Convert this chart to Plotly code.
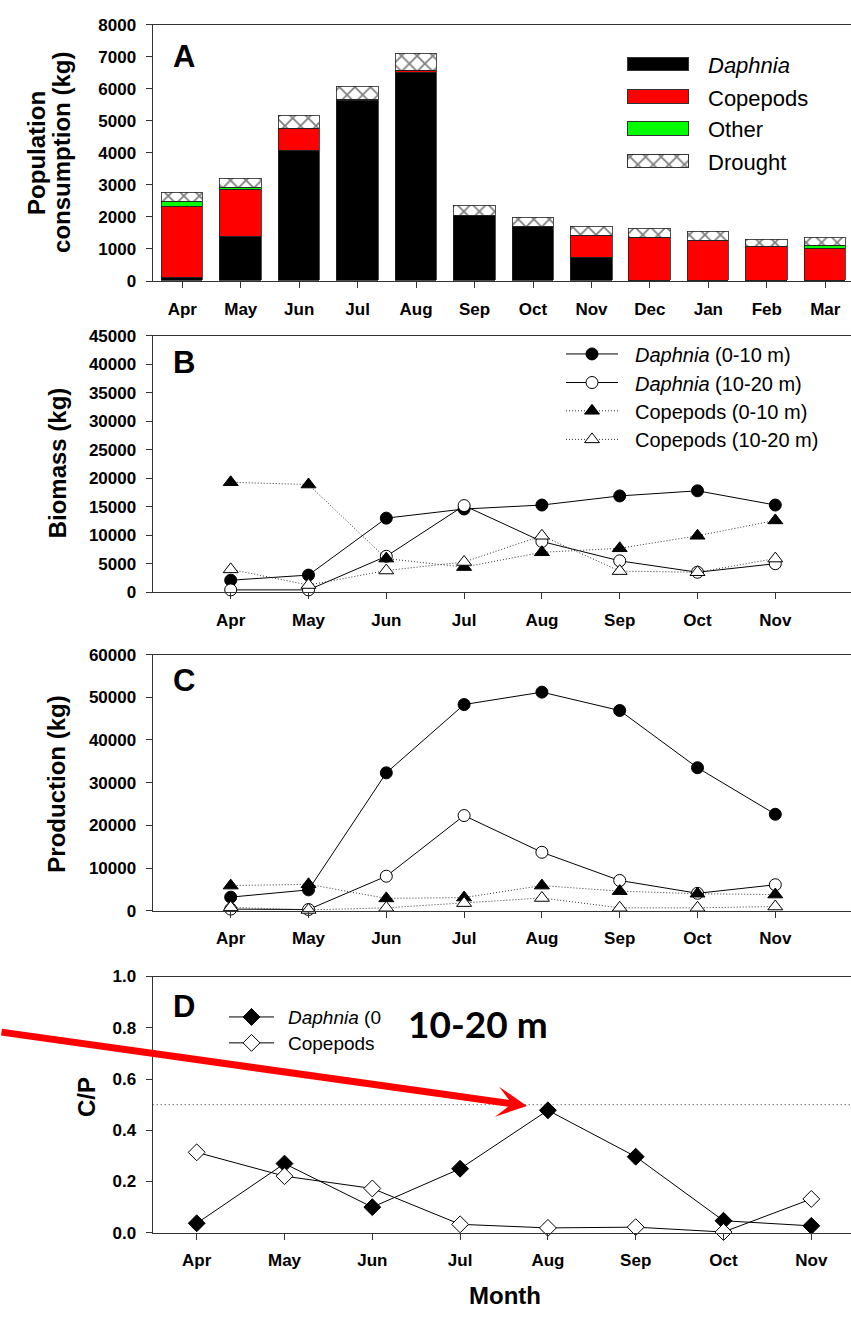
import plotly.graph_objects as go

W, H = 851, 1317

# ---------------------------------------------------------------- data
months_year = ["Apr", "May", "Jun", "Jul", "Aug", "Sep", "Oct", "Nov", "Dec", "Jan", "Feb", "Mar"]
months_season = months_year[:8]

# A: population consumption (kg), stacked by prey type
cons_daphnia = [110, 1385, 4060, 5620, 6490, 2050, 1680, 740, 0, 0, 0, 0]
cons_copepods = [2215, 1475, 690, 35, 60, 0, 0, 675, 1355, 1260, 1055, 995]
cons_other = [155, 50, 0, 0, 0, 0, 0, 0, 0, 0, 0, 100]
cons_drought = [280, 280, 420, 420, 560, 300, 290, 290, 290, 270, 230, 240]

# B: biomass (kg)
bio_daph_0_10 = [2100, 3000, 13000, 14600, 15300, 16900, 17800, 15300]
bio_daph_10_20 = [400, 400, 6300, 15200, 8900, 5500, 3500, 5000]
bio_cope_0_10 = [19300, 18900, 5900, 4400, 7000, 7700, 9900, 12600]
bio_cope_10_20 = [4000, 1250, 3800, 5300, 9900, 3700, 3500, 5900]

# C: production (kg)
prod_daph_0_10 = [3200, 4900, 32300, 48300, 51200, 46900, 33500, 22600]
prod_daph_10_20 = [400, 300, 8100, 22300, 13700, 7100, 4100, 6100]
prod_cope_0_10 = [5900, 6200, 2900, 3100, 5900, 4600, 4000, 3800]
prod_cope_10_20 = [800, 200, 700, 1800, 3000, 700, 700, 1000]

# D: consumption / production ratio, 10-20 m
cp_daphnia = [0.037, 0.27, 0.10, 0.25, 0.478, 0.297, 0.047, 0.027]
cp_copepods = [0.314, 0.221, 0.173, 0.033, 0.019, 0.022, 0.003, 0.132]
CP_REFERENCE = 0.5

# ---------------------------------------------------------------- styling
SANS = "Arial, Liberation Sans, sans-serif"
BLACK = "black"
RED = "#ff0000"
GREEN = "#00ff00"
AXIS_COLOR = "#333333"
DOT_COLOR = "#333333"
DOT_DASH = "1px,2px"

PLOT_LEFT = 152.7
X_DOM = [PLOT_LEFT / W, 1.0]


def ydom(top_px, bottom_px):
    return [1 - bottom_px / H, 1 - top_px / H]


def px(x, y):
    return x / W, 1 - y / H


def x_range(first_tick_px, step_px):
    return [(PLOT_LEFT - first_tick_px) / step_px, (W - first_tick_px) / step_px]


idx_year = list(range(len(months_year)))
idx_season = list(range(len(months_season)))

fig = go.Figure()

# ---------------------------------------------------------------- panel A bars
bar_series = [
    ("Daphnia", cons_daphnia, dict(color=BLACK)),
    ("Copepods", cons_copepods, dict(color=RED)),
    ("Other", cons_other, dict(color=GREEN)),
    ("Drought", cons_drought, dict(color="white",
                                   pattern=dict(shape="x", fgcolor=BLACK, bgcolor="white",
                                                size=11, solidity=0.3))),
]
for name, vals, mk in bar_series:
    fig.add_trace(go.Bar(
        x=idx_year, y=vals, width=0.71, name=name, showlegend=False,
        marker=dict(line=dict(color="#222222", width=0.8), **mk),
        xaxis="x", yaxis="y",
    ))


# ---------------------------------------------------------------- line panels
def line_style(dotted):
    if dotted:
        return dict(color=DOT_COLOR, width=1, dash=DOT_DASH)
    return dict(color=BLACK, width=1, dash="solid")


def marker_style(symbol, filled, size):
    return dict(symbol=symbol, size=size, color=BLACK if filled else "white",
                line=dict(color=BLACK, width=1))


def add_profile(xa, ya, values, symbol, filled, dotted, size):
    fig.add_trace(go.Scatter(
        x=idx_season, y=values, mode="lines+markers", showlegend=False, cliponaxis=False,
        line=line_style(dotted), marker=marker_style(symbol, filled, size),
        xaxis=xa, yaxis=ya,
    ))


profiles = [
    (bio_daph_0_10, prod_daph_0_10, "circle", True, False),
    (bio_daph_10_20, prod_daph_10_20, "circle", False, False),
    (bio_cope_0_10, prod_cope_0_10, "triangle-up", True, True),
    (bio_cope_10_20, prod_cope_10_20, "triangle-up", False, True),
]
for bio, prod, sym, filled, dotted in profiles:
    add_profile("x2", "y2", bio, sym, filled, dotted, 12 if sym == "circle" else 13)
for bio, prod, sym, filled, dotted in profiles:
    add_profile("x3", "y3", prod, sym, filled, dotted, 12 if sym == "circle" else 13)

add_profile("x4", "y4", cp_daphnia, "diamond", True, False, 13)
add_profile("x4", "y4", cp_copepods, "diamond", False, False, 13)

# ---------------------------------------------------------------- legend keys (pixel overlay axis)
annotations = []
tick_font = dict(family=SANS, size=17, color=BLACK, weight="bold")

legend_a_rows = [56.7, 89.3, 121.7, 154.3]
for (name, _, mk), row in zip(bar_series, legend_a_rows):
    fig.add_trace(go.Bar(
        y=[row], x=[61.6], base=[627.7], width=13.3, orientation="h", showlegend=False,
        marker=dict(line=dict(color="#333333", width=1), **mk),
        xaxis="x5", yaxis="y5",
    ))
    label = "<i>Daphnia</i>" if name == "Daphnia" else name
    annotations.append(dict(text=label, x=706, y=row + 1, xref="x5", yref="y5",
                            xanchor="left", yanchor="middle", showarrow=False,
                            font=dict(family=SANS, size=22, color=BLACK)))


def legend_line_key(x0, x1, row, symbol, filled, dotted, size):
    fig.add_trace(go.Scatter(
        x=[x0, x1], y=[row, row], mode="lines", showlegend=False, cliponaxis=False,
        line=line_style(dotted), xaxis="x5", yaxis="y5",
    ))
    fig.add_trace(go.Scatter(
        x=[(x0 + x1) / 2], y=[row], mode="markers", showlegend=False, cliponaxis=False,
        marker=marker_style(symbol, filled, size), xaxis="x5", yaxis="y5",
    ))


legend_b = [
    ("<i>Daphnia</i> (0-10 m)", "circle", True, False, 12),
    ("<i>Daphnia</i> (10-20 m)", "circle", False, False, 12),
    ("Copepods (0-10 m)", "triangle-up", True, True, 13),
    ("Copepods (10-20 m)", "triangle-up", False, True, 13),
]
legend_b_rows = [350, 379, 407.7, 436.7]
for (label, sym, filled, dotted, size), row in zip(legend_b, legend_b_rows):
    legend_line_key(566, 618, row, sym, filled, dotted, size)
    annotations.append(dict(text=label, x=633, y=row + 1, xref="x5", yref="y5",
                            xanchor="left", yanchor="middle", showarrow=False,
                            font=dict(family=SANS, size=20, color=BLACK)))

# panel D key: labels end where the depth label begins
legend_d = [
    ("<i>Daphnia</i> (0", True),
    ("Copepods", False),
]
legend_d_rows = [1022.7, 1049]
for (label, filled), row in zip(legend_d, legend_d_rows):
    legend_line_key(229, 274, row, "diamond", filled, False, 13)
    annotations.append(dict(text=label, x=286, y=row + 1, xref="x5", yref="y5",
                            xanchor="left", yanchor="middle", showarrow=False,
                            font=dict(family=SANS, size=19, color=BLACK)))

annotations.append(dict(text="<b>10-20 m</b>", x=406, y=1029, xref="x5", yref="y5",
                        xanchor="left", yanchor="middle", showarrow=False,
                        font=dict(family="Lato, sans-serif", size=37, color=BLACK)))

# ---------------------------------------------------------------- panel letters and titles
for letter, yc in [("A", 48), ("B", 359), ("C", 681), ("D", 1012.5)]:
    x, y = px(171, yc)
    annotations.append(dict(text=f"<b>{letter}</b>", x=x, y=y, xref="paper", yref="paper",
                            xanchor="left", yanchor="middle", showarrow=False,
                            font=dict(family=SANS, size=31, color=BLACK)))

title_font = dict(family=SANS, size=24, color=BLACK, weight="bold")
for text, xc, yc in [("Population", 37, 146), ("consumption (kg)", 62, 146),
                     ("Biomass (kg)", 57, 461), ("Production (kg)", 57, 787),
                     ("C/P", 86, 1104)]:
    x, y = px(xc, yc)
    annotations.append(dict(text=text, x=x, y=y, xref="paper", yref="paper", textangle=-90,
                            xanchor="center", yanchor="middle", showarrow=False, font=title_font))
x, y = px(505, 1305)
annotations.append(dict(text="Month", x=x, y=y, xref="paper", yref="paper",
                        xanchor="center", yanchor="middle", showarrow=False, font=title_font))

# arrow pointing at the August ratio
annotations.append(dict(text="", x=3.762, y=0.495, xref="x4", yref="y4",
                        ax=-560, ay=-74, showarrow=True, arrowhead=3, arrowsize=0.72,
                        arrowwidth=7, arrowcolor=RED, standoff=0))

# ---------------------------------------------------------------- axes
axis_common = dict(showline=True, linecolor=AXIS_COLOR, linewidth=1.2, ticks="outside",
                   ticklen=6, tickwidth=1.2, tickcolor=AXIS_COLOR, showgrid=False,
                   zeroline=False, tickfont=tick_font, fixedrange=True)


def x_axis(anchor, rng, labels):
    return dict(axis_common, domain=X_DOM, anchor=anchor, range=rng, mirror=True,
                tickmode="array", tickvals=list(range(len(labels))), ticktext=labels,
                ticklabelstandoff=6)


def y_axis(anchor, dom, rng, dtick, fmt="d"):
    return dict(axis_common, domain=dom, anchor=anchor, range=rng, dtick=dtick, tick0=0,
                tickformat=fmt, ticklabelstandoff=6)


fig.update_layout(
    width=W, height=H,
    margin=dict(l=0, r=0, t=0, b=0),
    paper_bgcolor="white", plot_bgcolor="rgba(0,0,0,0)",
    barmode="stack", bargap=0,
    showlegend=False,
    xaxis=x_axis("y", x_range(182.3, 58.45), months_year),
    yaxis=y_axis("x", ydom(16, 276), [0, 8000], 1000),
    xaxis2=x_axis("y2", x_range(230.7, 77.8), months_season),
    yaxis2=y_axis("x2", ydom(331.7, 591.7), [0, 45000], 5000),
    xaxis3=x_axis("y3", x_range(230.7, 77.8), months_season),
    yaxis3=y_axis("x3", ydom(655, 915), [0, 60000], 10000),
    xaxis4=x_axis("y4", x_range(196.7, 87.8), months_season),
    yaxis4=y_axis("x4", ydom(981.7, 1241.7), [0, 1], 0.2, ".1f"),
    xaxis5=dict(domain=[0, 1], range=[0, W], anchor="y5", visible=False, fixedrange=True),
    yaxis5=dict(domain=[0, 1], range=[H, 0], anchor="x5", visible=False, fixedrange=True),
    shapes=[dict(type="line", xref="x4 domain", x0=0, x1=1, yref="y4",
                 y0=CP_REFERENCE, y1=CP_REFERENCE, layer="below",
                 line=dict(color=DOT_COLOR, width=1, dash="1px,3px"))],
    annotations=annotations,
)

fig.write_html("out.html")
